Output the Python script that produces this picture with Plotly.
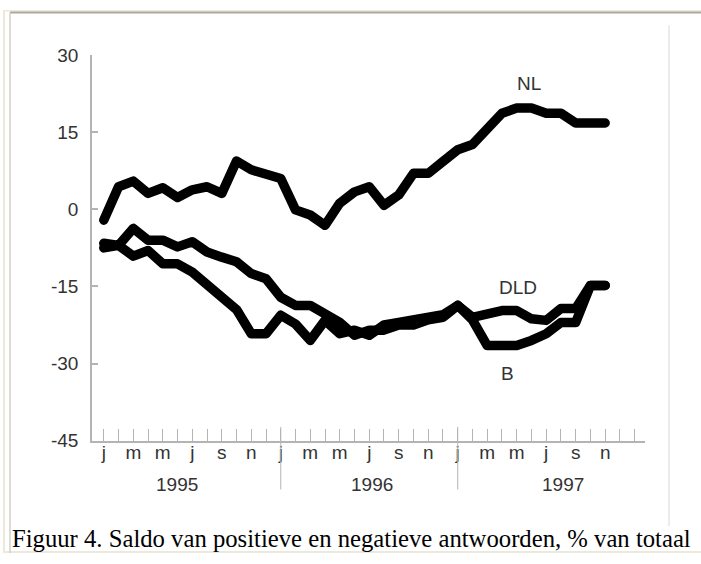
import plotly.graph_objects as go

# month index 0 = jan 1995 ... 34 = nov 1997
months = list(range(35))

NL = [-2.1, 4.4, 5.5, 3.1, 4.2, 2.3, 3.8, 4.4, 3.1, 9.4, 7.7, 7.0,
      6.0, -0.1, -1.1, -3.1, 1.2, 3.4, 4.4, 0.8, 2.8, 7.0, 7.0, 9.3,
      11.6, 12.6, 15.8, 18.7, 19.7, 19.7, 18.7, 18.7, 16.8, 16.8, 16.8]

DLD = [-6.6, -7.0, -3.7, -6.0, -6.0, -7.3, -6.3, -8.3, -9.3, -10.2, -12.5, -13.5,
       -17.1, -18.7, -18.7, -20.3, -22.0, -24.5, -23.5, -23.5, -22.5, -22.5, -21.5, -21.0,
       -18.7, -21.0, -20.5, -19.7, -19.7, -21.3, -21.6, -19.3, -19.3, -14.8, -14.8]

B = [-7.5, -7.0, -9.1, -8.0, -10.6, -10.6, -12.2, -14.8, -16.8, -19.5, -24.2, -24.2,
     -20.6, -22.3, -25.5, -21.6, -24.2, -23.5, -24.5, -22.5, -22.0, -21.5, -21.0, -20.5,
     -18.7, -21.5, -26.5, -26.5, -26.5, -25.5, -24.2, -22.0, -22.0, -14.8, -14.8]

month_letters = ["j", "", "m", "", "m", "", "j", "", "s", "", "n", ""]
tick_months = list(range(37))
tick_text = (month_letters * 3 + [""])[:37]
year_labels = ["1995", "1996", "1997"]
year_pos = [4.95, 18.2, 31.15]
year_breaks = [12, 24]
y_ticks = [-45, -30, -15, 0, 15, 30]
y_tick_text = ["-45", "-30", "-15", "0", "15", "30"]

series_labels = [("NL", 28.8, 24.4), ("DLD", 28.1, -15.2), ("B", 27.4, -32.0)]
caption = "Figuur 4. Saldo van positieve en negatieve antwoorden, % van totaal"

W, H = 701, 564
AXC = "#b4b4b4"
TXC = "#333333"
FONT = "Liberation Sans, Arial, sans-serif"


def py(v):
    """pixel-from-top -> paper fraction"""
    return 1 - v / H


fig = go.Figure()
for name, vals in [("NL", NL), ("DLD", DLD), ("B", B)]:
    fig.add_trace(go.Scatter(x=months, y=vals, mode="lines", name=name,
                             line=dict(color="black", width=9.5),
                             hoverinfo="skip", showlegend=False))

fig.update_layout(
    width=W, height=H,
    margin=dict(l=0, r=0, t=0, b=0),
    paper_bgcolor="white", plot_bgcolor="white",
    font=dict(family=FONT, size=19, color=TXC),
    xaxis=dict(range=[-0.8, 36.7], domain=[92 / W, 645 / W],
               showline=True, linecolor=AXC, linewidth=1.5,
               ticks="inside", ticklen=12, tickcolor=AXC, tickwidth=1,
               tickvals=tick_months, ticktext=tick_text,
               tickfont=dict(family=FONT, size=19, color=TXC),
               ticklabelstandoff=-6,
               showgrid=False, zeroline=False, fixedrange=True),
    yaxis=dict(range=[-45, 30], domain=[py(447.3), py(46.9)],
               showline=True, linecolor=AXC, linewidth=1.5,
               ticks="inside", ticklen=6, tickcolor=AXC, tickwidth=1.5,
               tickvals=y_ticks, ticktext=y_tick_text,
               tickfont=dict(family=FONT, size=19, color=TXC),
               ticklabelstandoff=8,
               showgrid=False, zeroline=False, fixedrange=True),
)

shapes = []
for m in year_breaks:
    shapes.append(dict(type="line", xref="x", yref="paper", x0=m, x1=m,
                       y0=py(498), y1=py(433),
                       line=dict(color=AXC, width=1)))
# page frame
shapes.append(dict(type="line", xref="paper", yref="paper",
                   x0=4 / W, x1=1.01, y0=py(0.8), y1=py(0.8),
                   line=dict(color="#ebe8dc", width=1.5)))
shapes.append(dict(type="line", xref="paper", yref="paper",
                   x0=4 / W, x1=1.01, y0=py(563), y1=py(563),
                   line=dict(color="#ebe8dc", width=2)))
shapes.append(dict(type="line", xref="paper", yref="paper",
                   x0=4 / W, x1=4 / W, y0=0, y1=1,
                   line=dict(color="#ebe8dc", width=2)))
shapes.append(dict(type="line", xref="paper", yref="paper",
                   x0=10 / W, x1=1.01, y0=py(2.6), y1=py(2.6),
                   line=dict(color="#aca899", width=2)))
shapes.append(dict(type="line", xref="paper", yref="paper",
                   x0=10 / W, x1=10 / W, y0=py(564), y1=py(2.6),
                   line=dict(color="#d4d0c8", width=1.5)))
shapes.append(dict(type="line", xref="paper", yref="paper",
                   x0=669 / W, x1=669 / W, y0=py(536), y1=py(16),
                   line=dict(color="#d8d8d8", width=1)))
fig.update_layout(shapes=shapes)

ann = []
for lbl, xp in zip(year_labels, year_pos):
    ann.append(dict(x=xp, y=py(493), xref="x", yref="paper", text=lbl,
                    showarrow=False, xanchor="center", yanchor="middle",
                    font=dict(family=FONT, size=19, color=TXC)))
for lbl, xm, yv in series_labels:
    ann.append(dict(x=xm, y=yv, xref="x", yref="y", text=lbl,
                    showarrow=False, xanchor="center", yanchor="middle",
                    font=dict(family=FONT, size=19, color=TXC)))
ann.append(dict(x=10 / W, y=py(549), xref="paper", yref="paper", text=caption,
                showarrow=False, xanchor="left", yanchor="middle",
                font=dict(family="Liberation Serif, Times New Roman, serif", size=24.7, color="black")))
fig.update_layout(annotations=ann)

post = """
document.documentElement.style.margin='0';
document.documentElement.style.overflow='hidden';
document.body.style.margin='0';
document.body.style.overflow='hidden';
var gd = document.getElementsByClassName('plotly-graph-div')[0];
gd.style.position='fixed'; gd.style.left='0px'; gd.style.top='0px';
document.querySelectorAll('.js-line').forEach(function(p){
  p.style.strokeLinejoin='round'; p.style.strokeLinecap='round';
});
"""
fig.write_html("out.html", post_script=post, config={"displayModeBar": False})
